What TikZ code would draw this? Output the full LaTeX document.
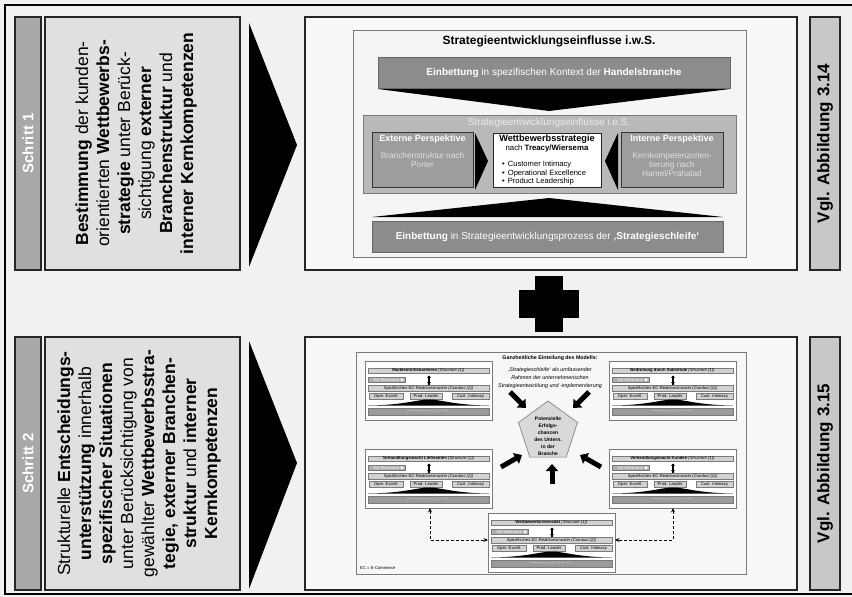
\documentclass[tikz,border=0pt]{standalone}
\usepackage{fontspec}
\setmainfont{Liberation Sans}
\usetikzlibrary{arrows.meta,shapes.geometric}

\definecolor{pagebg}{HTML}{F1F1F1}
\definecolor{stepgray}{HTML}{A8A8A8}
\definecolor{textgray}{HTML}{E0E0E0}
\definecolor{vglgray}{HTML}{C8C8C8}
\definecolor{figwhite}{HTML}{F8F8F8}
\definecolor{bardark}{HTML}{8C8C8C}
\definecolor{barmid}{HTML}{B9B9B9}
\definecolor{perspgray}{HTML}{9D9D9D}
\definecolor{linegray}{HTML}{7A7A7A}
\definecolor{modbar}{HTML}{D2D2D2}
\definecolor{ecbar}{HTML}{B0B0B0}
\definecolor{perfbar}{HTML}{9A9A9A}

\newcommand\fs[2]{\fontsize{#1}{#2}\selectfont}

% one module of the structure-conduct-performance model
\newcommand\ecmodule[4]{%
  \begin{scope}[shift={(#2,#3)}]
    \node[modframe, minimum width=127, minimum height=59, anchor=north west] (#1) at (0,0) {};
    \node[modcell, fill=modbar, minimum width=121, minimum height=5.5, anchor=north west] (#1-h) at (3,7) {};
    \node[minitxt] at (#1-h) {\textbf{#4} \textit{(Structure (1))}};
    \node[modcell, fill=ecbar, minimum width=37, minimum height=5.5, anchor=north west] (#1-ec) at (3,16) {};
    \node[minitxt, text=white] at (#1-ec) {EC-Relevanz};
    \fill[white] (37,18.75) circle (1.6);
    \coordinate (#1-u) at (64,14.5);
    \coordinate (#1-d) at (64,23.5);
    \draw[modarrow] (#1-u) -- (#1-d);
    \draw[modarrow] (#1-d) -- (#1-u);
    \node[modcell, fill=modbar, minimum width=121, minimum height=5.5, anchor=north west] (#1-c) at (3,24.5) {};
    \node[minitxt] at (#1-c) {Spezifisches EC-Reaktionsmuster \textit{(Conduct (2))}};
    \node[modcell, fill=modbar, minimum width=34, minimum height=5.5, anchor=north west] (#1-o) at (4,32.5) {};
    \node[minitxt] at (#1-o) {Oper. Excell.};
    \node[modcell, fill=modbar, minimum width=32, minimum height=5.5, anchor=north west] (#1-p) at (45,32.5) {};
    \node[minitxt] at (#1-p) {Prod. Leader};
    \node[modcell, fill=modbar, minimum width=37, minimum height=5.5, anchor=north west] (#1-i) at (87,32.5) {};
    \node[minitxt] at (#1-i) {Cust. Intimacy};
    \fill (3,44.5) .. controls (40,44) and (52,38.5) .. (64,38.5)
          .. controls (76,38.5) and (88,44) .. (124,44.5) -- cycle;
    \node[modcell, fill=perfbar, minimum width=121, minimum height=7, anchor=north west] (#1-f) at (3,47) {};
    \node[minitxt, text=black!25] at (#1-f) {Performance (3) im EC};
  \end{scope}}

\begin{document}
\begin{tikzpicture}[x=1pt,y=-1pt,
  panel/.style={draw=black!85, line width=1.3pt, inner sep=0pt, outer sep=0pt},
  stepbar/.style={panel, fill=stepgray},
  textpanel/.style={panel, fill=textgray},
  figpanel/.style={panel, fill=figwhite},
  vglpanel/.style={panel, fill=vglgray},
  steptitle/.style={rotate=90, text=white, font=\bfseries\fs{15}{18}},
  steptext/.style={rotate=90, align=center, font=\fs{17.5}{21}},
  vgltext/.style={rotate=90, font=\bfseries\fs{17}{20}},
  plain/.style={inner sep=0pt, outer sep=0pt},
  whitebar/.style={plain, fill=bardark, draw=black!60, line width=0.5pt},
  persp/.style={plain, fill=perspgray, draw=black!80, line width=0.8pt},
  modframe/.style={plain, fill=white, draw=linegray, line width=0.6pt},
  modcell/.style={plain, draw=linegray, line width=0.35pt},
  minitxt/.style={inner sep=0pt, font=\fs{4.2}{5}},
  modarrow/.style={line width=1.2pt, -{Triangle[length=2.2pt,width=4pt]}},
  blockarrow/.style={line width=5pt, -{Triangle[length=7pt,width=12pt]}},
  dasharrow/.style={dashed, line width=0.9pt, dash pattern=on 3pt off 2pt,
                    {Stealth[length=4.5pt,width=4pt]}-{Stealth[length=4.5pt,width=4pt]}}
]
\useasboundingbox (0,0) rectangle (852,597);
\clip (0,0) rectangle (852,597);
\fill[pagebg] (0,0) rectangle (852,597);
\draw[line width=2.6pt] (5,5) rectangle (870,594);

% ---------- step 1 ----------
\node[stepbar, minimum width=26, minimum height=253] (s1) at (28,143.5) {};
\node[steptitle] at (s1) {Schritt 1};
\node[textpanel, minimum width=195, minimum height=253] (t1) at (142.5,143.5) {};
\node[steptext] at (136,143.5) {\textbf{Bestimmung} der kunden-\\orientierten \textbf{Wettbewerbs-}\\\textbf{strategie} unter Berück-\\sichtigung \textbf{externer}\\\textbf{Branchenstruktur} und\\\textbf{interner Kernkompetenzen}};
\fill (249,23) -- (249,267) -- (297,145) -- cycle;
\node[figpanel, minimum width=492, minimum height=253] (f1) at (551,143.5) {};
\node[vglpanel, minimum width=30, minimum height=253] (v1) at (825,143.5) {};
\node[vgltext] at (v1) {Vgl. Abbildung 3.14};

% ---------- step 2 ----------
\node[stepbar, minimum width=26, minimum height=253] (s2) at (28,463.5) {};
\node[steptitle] at (s2) {Schritt 2};
\node[textpanel, minimum width=195, minimum height=253] (t2) at (142.5,463.5) {};
\node[steptext] at (139,463.5) {Strukturelle \textbf{Entscheidungs-}\\\textbf{unterstützung} innerhalb\\\textbf{spezifischer Situationen}\\unter Berücksichtigung von\\gewählter \textbf{Wettbewerbsstra-}\\\textbf{tegie, externer Branchen-}\\\textbf{struktur} und \textbf{interner}\\\textbf{Kernkompetenzen}};
\fill (249,341) -- (249,589) -- (297,463) -- cycle;
\node[figpanel, minimum width=492, minimum height=253] (f2) at (551,463.5) {};
\node[vglpanel, minimum width=30, minimum height=253] (v2) at (825,463.5) {};
\node[vgltext] at (v2) {Vgl. Abbildung 3.15};

% ---------- plus between the two steps ----------
\fill (535,276) rectangle (563,332);
\fill (519,290) rectangle (579,318);

% ---------- figure 3.14: strategy development influences ----------
\fill[white!96!black, draw=linegray, line width=0.6pt] (353,30) rectangle (746,257);
\node[font=\bfseries\fs{12}{14}] at (549,41) {Strategieentwicklungseinflusse i.w.S.};
\node[whitebar, minimum width=352, minimum height=31, anchor=north west] (b1) at (378,57) {};
\node[text=white, font=\fs{10}{12}] at (b1) {\textbf{Einbettung} in spezifischen Kontext der \textbf{Handelsbranche}};
\fill (378,89) -- (730,89) -- (549,111) -- cycle;
\node[plain, fill=barmid, draw=linegray, line width=0.6pt, minimum width=373, minimum height=78, anchor=north west] (ies) at (363,115) {};
\node[text=white!92!black, font=\fs{10}{12}] at (549,122.5) {Strategieentwicklungseinflüsse i.e.S.};
\node[persp, minimum width=101, minimum height=55, anchor=north west] (ext) at (372,132) {};
\node[text=white, font=\bfseries\fs{9}{11}] at (422.5,139) {Externe Perspektive};
\node[text=white!88!black, align=center, font=\fs{8.3}{9}] at (422.5,160.5) {Branchenstruktur nach\\Porter};
\fill (475,133) -- (475,190) -- (488,161) -- cycle;
\node[plain, fill=white, draw=black!85, line width=0.8pt, minimum width=108, minimum height=54, anchor=north west] (wb) at (493,133) {};
\node[font=\bfseries\fs{9.2}{11}] at (547,139) {Wettbewerbsstrategie};
\node[font=\fs{7.8}{9}] at (547,148.5) {nach \textbf{Treacy/Wiersema}};
\node[anchor=west, inner sep=0pt, font=\fs{7.6}{9}] at (502,165) {•\hspace{3pt}Customer Intimacy};
\node[anchor=west, inner sep=0pt, font=\fs{7.6}{9}] at (502,173.5) {•\hspace{3pt}Operational Excellence};
\node[anchor=west, inner sep=0pt, font=\fs{7.6}{9}] at (502,182) {•\hspace{3pt}Product Leadership};
\fill (618,133) -- (618,190) -- (605,161) -- cycle;
\node[persp, minimum width=102, minimum height=55, anchor=north west] (int) at (621,132) {};
\node[text=white, font=\bfseries\fs{9}{11}] at (672,139) {Interne Perspektive};
\node[text=white!88!black, align=center, font=\fs{8.3}{9}] at (672,165) {Kernkompetenzorien-\\tierung nach\\Hamel/Prahalad};
\fill (372,217) -- (723,217) -- (549,198) -- cycle;
\node[whitebar, minimum width=351, minimum height=31, anchor=north west] (b2) at (372,221) {};
\node[text=white, font=\fs{10}{12}] at (b2) {\textbf{Einbettung} in Strategieentwicklungsprozess der \textbf{‚Strategieschleife‘}};

% ---------- figure 3.15: holistic model ----------
\fill[white!97!black, draw=linegray, line width=0.6pt] (356,352) rectangle (746,574);
\node[font=\bfseries\fs{5.3}{6}] at (550,358) {Ganzheitliche Einteilung des Modells:};
\node[align=center, font=\itshape\fs{5.4}{8}] at (550,378) {‚Strategieschleife‘ als umfassender\\Rahmen der unternehmerischen\\Strategieentwicklung und -implementierung};

\ecmodule{mTL}{365}{361}{Markteintrittsbarrieren}
\ecmodule{mTR}{609}{361}{Bedrohung durch Substitute}
\ecmodule{mBL}{365}{449}{Verhandlungsmacht Lieferanten}
\ecmodule{mBR}{609}{449}{Verhandlungsmacht Kunden}
\ecmodule{mBC}{488}{513}{Wettbewerbsintensität}

\node[regular polygon, regular polygon sides=5, minimum size=62, inner sep=0pt,
      fill=black!15, draw=linegray, line width=0.6pt] (pent) at (548,432) {};
\node[align=center, font=\bfseries\fs{5}{7}] at (548,436) {Potenzielle\\Erfolgs-\\chancen\\des Untern.\\in der\\Branche};

\coordinate (aTLs) at (510,392); \coordinate (aTLe) at (526,408);
\coordinate (aTRs) at (589,392); \coordinate (aTRe) at (573,408);
\coordinate (aBLs) at (501,467); \coordinate (aBLe) at (522,455);
\coordinate (aBRs) at (601,467); \coordinate (aBRe) at (580,455);
\coordinate (aBs)  at (552,484); \coordinate (aBe)  at (552,464);
\draw[blockarrow] (aTLs) -- (aTLe);
\draw[blockarrow] (aTRs) -- (aTRe);
\draw[blockarrow] (aBLs) -- (aBLe);
\draw[blockarrow] (aBRs) -- (aBRe);
\draw[blockarrow] (aBs) -- (aBe);

\coordinate (dl) at (430,540);
\coordinate (dr) at (673,540);
\draw[dasharrow] (mBL.south -| dl) -- (dl) -- (mBC.west |- dl);
\draw[dasharrow] (mBR.south -| dr) -- (dr) -- (mBC.east |- dr);

\node[anchor=west, inner sep=0pt, font=\fs{4.2}{5}] at (360,568) {EC = E-Commerce};
\end{tikzpicture}
\end{document}
